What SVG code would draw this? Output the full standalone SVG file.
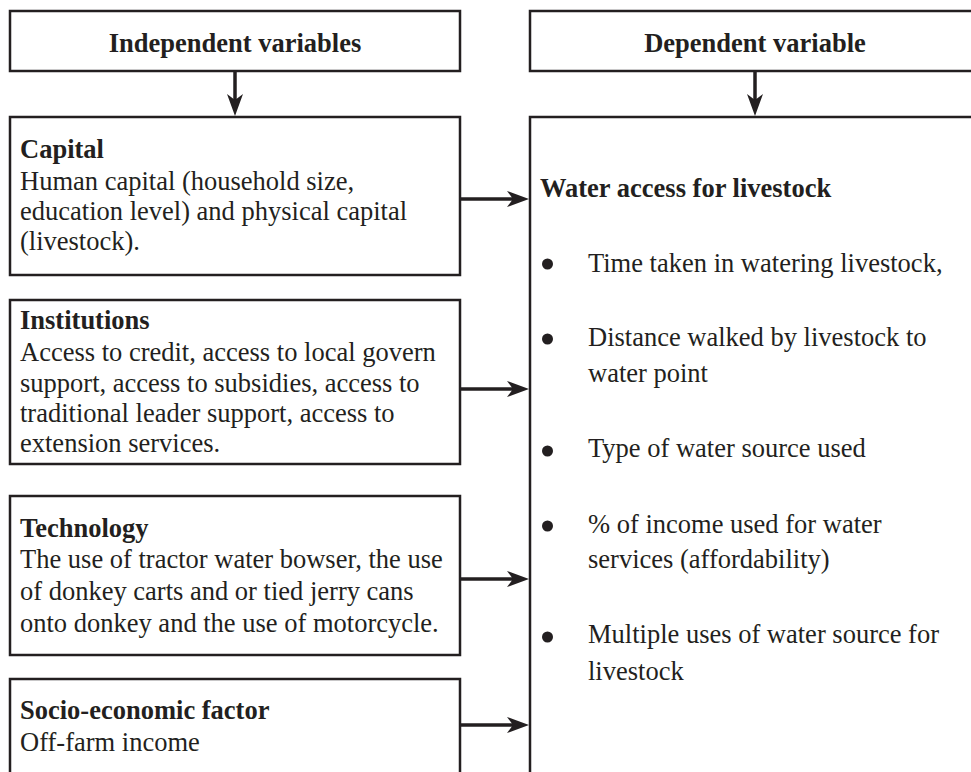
<svg xmlns="http://www.w3.org/2000/svg" width="971" height="772" viewBox="0 0 971 772">
  <style>
    .box { fill: #ffffff; stroke: #231f20; stroke-width: 2.5; }
    .t { font-family: "Liberation Serif", "Times New Roman", serif; font-size: 26.5px; fill: #231f20; }
    .b { font-weight: bold; }
    .c { text-anchor: middle; }
    .conn { stroke: #231f20; stroke-width: 3.5; fill: none; marker-end: url(#ah); }
    .dot { fill: #231f20; }
  </style>
  <defs>
    <marker id="ah" markerUnits="userSpaceOnUse" markerWidth="24" markerHeight="18" viewBox="-7 -9 24 18" refX="0" refY="0" orient="auto">
      <path d="M16,0 L-6,-8 L0,0 L-6,8 Z" fill="#231f20"/>
    </marker>
  </defs>
  <rect width="971" height="772" fill="#ffffff"/>

  <g id="independent-header">
    <rect class="box" x="10" y="11" width="450" height="60"/>
    <text class="t b c" x="235" y="52">Independent variables</text>
  </g>

  <g id="dependent-header">
    <rect class="box" x="530" y="11" width="460" height="60"/>
    <text class="t b c" x="755" y="52">Dependent variable</text>
  </g>

  <g id="capital">
    <rect class="box" x="10" y="117" width="450" height="158"/>
    <text class="t b" x="20" y="158">Capital</text>
    <text class="t" x="20" y="190">Human capital (household size,</text>
    <text class="t" x="20" y="220">education level) and physical capital</text>
    <text class="t" x="20" y="250">(livestock).</text>
  </g>

  <g id="institutions">
    <rect class="box" x="10" y="300" width="450" height="164"/>
    <text class="t b" x="20" y="329">Institutions</text>
    <text class="t" x="20" y="361">Access to credit, access to local govern</text>
    <text class="t" x="20" y="392">support, access to subsidies, access to</text>
    <text class="t" x="20" y="422">traditional leader support, access to</text>
    <text class="t" x="20" y="452">extension services.</text>
  </g>

  <g id="technology">
    <rect class="box" x="10" y="496" width="450" height="159"/>
    <text class="t b" x="20" y="537">Technology</text>
    <text class="t" x="20" y="568">The use of tractor water bowser, the use</text>
    <text class="t" x="20" y="600">of donkey carts and or tied jerry cans</text>
    <text class="t" x="20" y="632">onto donkey and the use of motorcycle.</text>
  </g>

  <g id="socio-economic">
    <rect class="box" x="10" y="679" width="450" height="130"/>
    <text class="t b" x="20" y="719">Socio-economic factor</text>
    <text class="t" x="20" y="751">Off-farm income</text>
  </g>

  <g id="water-access">
    <rect class="box" x="530" y="117" width="460" height="700"/>
    <text class="t b" x="540" y="197">Water access for livestock</text>
    <circle class="dot" cx="547.5" cy="264" r="5.5"/>
    <text class="t" x="588" y="272">Time taken in watering livestock,</text>
    <circle class="dot" cx="547.5" cy="339" r="5.5"/>
    <text class="t" x="588" y="346">Distance walked by livestock to</text>
    <text class="t" x="588" y="382">water point</text>
    <circle class="dot" cx="547.5" cy="451" r="5.5"/>
    <text class="t" x="588" y="457">Type of water source used</text>
    <circle class="dot" cx="547.5" cy="526" r="5.5"/>
    <text class="t" x="588" y="533">% of income used for water</text>
    <text class="t" x="588" y="568">services (affordability)</text>
    <circle class="dot" cx="547.5" cy="637" r="5.5"/>
    <text class="t" x="588" y="643">Multiple uses of water source for</text>
    <text class="t" x="588" y="680">livestock</text>
  </g>

  <g id="connectors">
    <line class="conn" x1="235" y1="72" x2="235" y2="100"/>
    <line class="conn" x1="755" y1="72" x2="755" y2="100"/>
    <line class="conn" x1="461" y1="199" x2="513" y2="199"/>
    <line class="conn" x1="461" y1="389" x2="513" y2="389"/>
    <line class="conn" x1="461" y1="579" x2="513" y2="579"/>
    <line class="conn" x1="461" y1="725" x2="513" y2="725"/>
  </g>
</svg>
